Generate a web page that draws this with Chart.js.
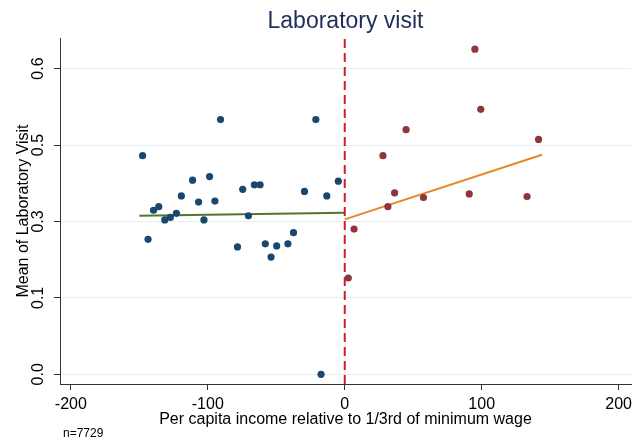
<!DOCTYPE html>
<html>
<head>
<meta charset="utf-8">
<script src="https://cdn.jsdelivr.net/npm/chart.js@4"></script>
<style>
  html, body { margin: 0; padding: 0; background: #fff; }
  #wrap { width: 635px; height: 448px; }
</style>
</head>
<body>
<div id="wrap"><canvas id="chart"></canvas></div>
<script>
// bin means below the cutoff
var leftX = [-147.6, -143.6, -139.6, -135.8, -131.4, -127.3, -122.9, -119.3, -111.1, -106.7,
             -102.8, -98.7, -94.8, -90.7, -78.3, -74.5, -70.3, -66.0, -61.8, -58.0,
             -53.8, -49.7, -41.5, -37.4, -29.4, -21.1, -17.3, -13.1, -4.7];
var leftY = [0.429, 0.265, 0.322, 0.329, 0.303, 0.308, 0.316, 0.350, 0.381, 0.338,
             0.303, 0.388, 0.340, 0.500, 0.250, 0.363, 0.311, 0.372, 0.372, 0.256,
             0.230, 0.252, 0.256, 0.278, 0.359, 0.500, 0.000, 0.350, 0.379];
// bin means above the cutoff
var rightX = [2.6, 6.8, 27.9, 31.5, 36.4, 44.8, 57.5, 90.9, 95.0, 99.3, 133.1, 141.5];
var rightY = [0.189, 0.285, 0.429, 0.329, 0.356, 0.480, 0.347, 0.354, 0.638, 0.520, 0.349, 0.461];
// fitted lines (end points)
var leftFitX = [-150, 0];
var leftFitY = [0.311, 0.317];
var rightFitX = [0, 144];
var rightFitY = [0.304, 0.431];
var cutoff = 0;

var xTicks = [-200, -100, 0, 100, 200];
var yTicks = [0, 0.15, 0.3, 0.45, 0.6];
var yTickLabels = ['0.0', '0.1', '0.3', '0.5', '0.6'];
var xMin = -207.9, xMax = 209, yMin = -0.019, yMax = 0.66;

function pts(xs, ys) {
  return xs.map(function (x, i) { return { x: x, y: ys[i] }; });
}

Chart.defaults.font.family = "'Liberation Sans', Arial, sans-serif";
Chart.defaults.color = '#000';

var noteText = {
  id: 'noteText',
  afterDraw: function (chart) {
    var ctx = chart.ctx;
    ctx.save();
    ctx.font = "12px 'Liberation Sans', Arial, sans-serif";
    ctx.fillStyle = '#000';
    ctx.textBaseline = 'alphabetic';
    ctx.fillText('n=7729', 63, 437);
    ctx.restore();
  }
};

new Chart(document.getElementById('chart'), {
  type: 'scatter',
  data: {
    datasets: [
      {
        label: 'below',
        data: pts(leftX, leftY),
        backgroundColor: '#1a476f',
        borderWidth: 0,
        pointRadius: 3.6
      },
      {
        label: 'above',
        data: pts(rightX, rightY),
        backgroundColor: '#90353b',
        borderWidth: 0,
        pointRadius: 3.6
      },
      {
        label: 'cutoff',
        data: [{ x: cutoff, y: yMin }, { x: cutoff, y: yMax }],
        showLine: true,
        borderColor: '#c8202f',
        borderWidth: 2,
        borderDash: [9, 5],
        pointRadius: 0
      },
      {
        label: 'fit below',
        data: pts(leftFitX, leftFitY),
        showLine: true,
        borderColor: '#55752f',
        borderWidth: 2,
        pointRadius: 0
      },
      {
        label: 'fit above',
        data: pts(rightFitX, rightFitY),
        showLine: true,
        borderColor: '#e8862a',
        borderWidth: 2,
        pointRadius: 0
      }
    ]
  },
  options: {
    responsive: true,
    maintainAspectRatio: false,
    animation: false,
    layout: { padding: { left: 0, right: 2, top: 0, bottom: 0 } },
    plugins: {
      legend: { display: false },
      tooltip: { enabled: false },
      title: {
        display: true,
        fullSize: false,
        text: 'Laboratory visit',
        color: '#1f2d5a',
        font: { size: 23, weight: 'normal' },
        padding: { top: 8, bottom: 2.4 }
      }
    },
    scales: {
      x: {
        type: 'linear',
        min: xMin,
        max: xMax,
        afterBuildTicks: function (scale) {
          scale.ticks = xTicks.map(function (v) { return { value: v }; });
        },
        afterFit: function (scale) {
          scale.height = 64;
          scale.paddingLeft = 0;
          scale.paddingRight = 0;
        },
        ticks: {
          font: { size: 16 },
          color: '#000',
          padding: 5,
          maxRotation: 0,
          callback: function (v) { return String(v); }
        },
        grid: { drawOnChartArea: false, tickLength: 6, tickColor: '#333' },
        border: { color: '#333', width: 1 },
        title: {
          display: true,
          text: 'Per capita income relative to 1/3rd of minimum wage',
          font: { size: 16 },
          color: '#000',
          padding: { top: 0, bottom: 19 }
        }
      },
      y: {
        type: 'linear',
        min: yMin,
        max: yMax,
        afterBuildTicks: function (scale) {
          scale.ticks = yTicks.map(function (v) { return { value: v }; });
        },
        afterFit: function (scale) {
          scale.width = 60;
          scale.paddingTop = 0;
          scale.paddingBottom = 0;
        },
        ticks: {
          font: { size: 16 },
          color: '#000',
          padding: 4.5,
          minRotation: 90,
          maxRotation: 90,
          crossAlign: 'center',
          callback: function (v) {
            var i = yTicks.indexOf(v);
            return i >= 0 ? yTickLabels[i] : '';
          }
        },
        grid: { color: '#e6eef1', lineWidth: 1, tickLength: 6, tickColor: '#333' },
        border: { color: '#333', width: 1 },
        title: {
          display: true,
          text: 'Mean of Laboratory Visit',
          font: { size: 16 },
          color: '#000',
          padding: { top: 14, bottom: 0 }
        }
      }
    }
  },
  plugins: [noteText]
});
</script>
</body>
</html>
